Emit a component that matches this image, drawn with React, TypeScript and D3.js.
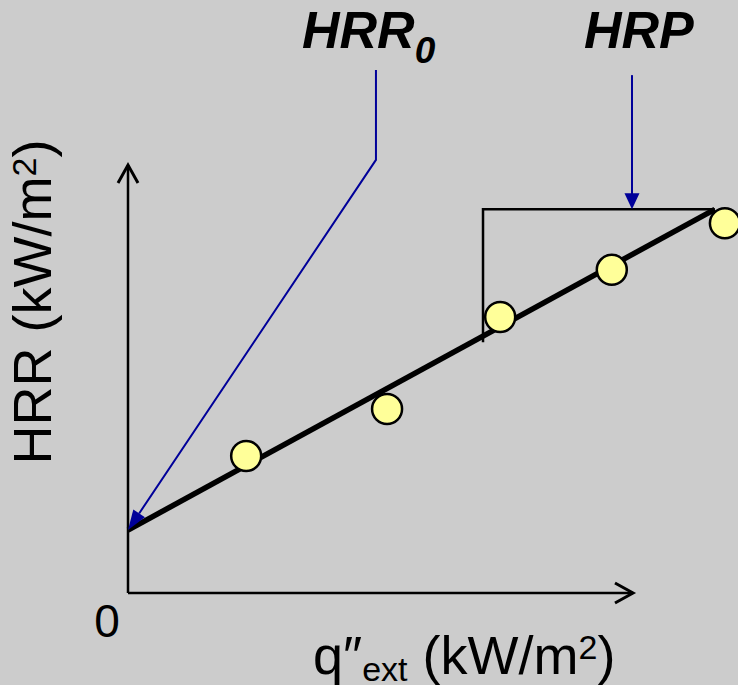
import React from "react";
import * as d3 from "d3";

// Measured heat release rate against external heat flux (schematic units)
const fluxValues = [23.4, 51.3, 73.7, 95.8, 118.2];
const hrrValues = [32.0, 43.0, 64.5, 75.5, 86.4];

// Fitted line: intercept (HRR0) and end point of the fit
const fitIntercept = 14.7;
const fitEndFlux = 116.2;
const fitSlope = 0.645;

// Slope triangle for the heat release parameter (HRP)
const triangleStartFlux = 70.3;
const triangleBottomHrr = 58.6;

// Annotation leader positions in data units
const hrr0LeaderFlux = 49.1;
const hrr0LeaderTop = 122.2;
const hrr0LeaderBend = 101.2;
const hrpArrowFlux = 99.8;
const hrpArrowTop = 121.0;

const xTickLabels = ["0"];

const W = 738;
const H = 685;
const BG = "#cccccc";
const BLUE = "#000099";
const FONT = "'Liberation Sans', Arial, sans-serif";

export default function App() {
  const x = d3.scaleLinear().domain([0, 100]).range([128, 633]);
  const y = d3.scaleLinear().domain([0, 100]).range([593, 165]);

  const fitY = (f: number) => fitIntercept + fitSlope * f;
  const fitEndHrr = fitY(fitEndFlux);

  const line = d3
    .line<[number, number]>()
    .x((d) => x(d[0]))
    .y((d) => y(d[1]));

  const fitPath = line([
    [0, fitIntercept],
    [fitEndFlux, fitEndHrr],
  ]);

  const trianglePath = line([
    [triangleStartFlux, triangleBottomHrr],
    [triangleStartFlux, fitEndHrr],
    [fitEndFlux, fitEndHrr],
  ]);

  // HRR0 leader: vertical, then diagonal into the intercept
  const hx0 = x(hrr0LeaderFlux);
  const hy0 = y(hrr0LeaderTop);
  const hyB = y(hrr0LeaderBend);
  const tx = x(0);
  const ty = y(fitIntercept);
  const ang = Math.atan2(ty - hyB, tx - hx0);
  const aLen = 20;
  const aW = 7;
  const baseX = tx - aLen * Math.cos(ang);
  const baseY = ty - aLen * Math.sin(ang);
  const px = -Math.sin(ang);
  const py = Math.cos(ang);
  const hrr0Head = `M${tx},${ty}L${baseX + aW * px},${baseY + aW * py}L${baseX - aW * px},${baseY - aW * py}Z`;

  // HRP arrow pointing down onto the top of the triangle
  const ax = x(hrpArrowFlux);
  const aTop = y(hrpArrowTop);
  const aTip = y(fitEndHrr);
  const hrpHead = `M${ax},${aTip}L${ax - 7.5},${aTip - 16}L${ax + 7.5},${aTip - 16}Z`;

  const x0 = x(0);
  const y0 = y(0);
  const xEnd = x(100);
  const yEnd = y(100);

  return (
    <svg
      width={W}
      height={H}
      style={{ position: "absolute", left: 0, top: 0, display: "block" }}
      fontFamily={FONT}
    >
      <rect width={W} height={H} fill={BG} />

      {/* axes with open arrowheads */}
      <g stroke="#000" strokeWidth={2.5} fill="none">
        <line x1={x0} y1={y0} x2={xEnd} y2={y0} />
        <polyline points={`${xEnd - 18},${y0 - 10} ${xEnd},${y0} ${xEnd - 18},${y0 + 10}`} strokeWidth={3} />
        <line x1={x0} y1={y0} x2={x0} y2={yEnd} />
        <polyline points={`${x0 - 10},${yEnd + 18} ${x0},${yEnd} ${x0 + 10},${yEnd + 18}`} strokeWidth={3} />
      </g>

      {/* slope triangle */}
      <path d={trianglePath ?? ""} fill="none" stroke="#000" strokeWidth={2.5} />

      {/* fitted line */}
      <path d={fitPath ?? ""} fill="none" stroke="#000" strokeWidth={5.5} />

      {/* HRR0 leader */}
      <polyline
        points={`${hx0},${hy0} ${hx0},${hyB} ${baseX},${baseY}`}
        fill="none"
        stroke={BLUE}
        strokeWidth={2}
      />
      <path d={hrr0Head} fill={BLUE} />

      {/* HRP arrow */}
      <line x1={ax} y1={aTop} x2={ax} y2={aTip - 14} stroke={BLUE} strokeWidth={2} />
      <path d={hrpHead} fill={BLUE} />

      {/* measured points */}
      {fluxValues.map((f, i) => (
        <circle
          key={i}
          cx={x(f)}
          cy={y(hrrValues[i])}
          r={15}
          fill="#ffff99"
          stroke="#000"
          strokeWidth={2.5}
        />
      ))}

      {/* tick label at the origin */}
      {xTickLabels.map((t) => (
        <text key={t} x={107} y={637} fontSize={46} textAnchor="middle" fill="#000">
          {t}
        </text>
      ))}

      {/* axis titles */}
      <text x={313} y={674} fontSize={54} fill="#000">
        q″<tspan fontSize={34} dy={7}>ext</tspan>
        <tspan dy={-7}> (kW/m</tspan>
        <tspan fontSize={34} dy={-15}>2</tspan>
        <tspan dy={15}>)</tspan>
      </text>
      <text
        transform="translate(51,302) rotate(-90)"
        fontSize={54}
        textAnchor="middle"
        fill="#000"
      >
        HRR (kW/m<tspan fontSize={34} dy={-15}>2</tspan>
        <tspan dy={15}>)</tspan>
      </text>

      {/* annotation labels */}
      <text x={302} y={48} fontSize={52} fontWeight="bold" fontStyle="italic" fill="#000">
        HRR<tspan fontSize={37} dy={15}>0</tspan>
      </text>
      <text x={584} y={48} fontSize={52} fontWeight="bold" fontStyle="italic" fill="#000">
        HRP
      </text>
    </svg>
  );
}
